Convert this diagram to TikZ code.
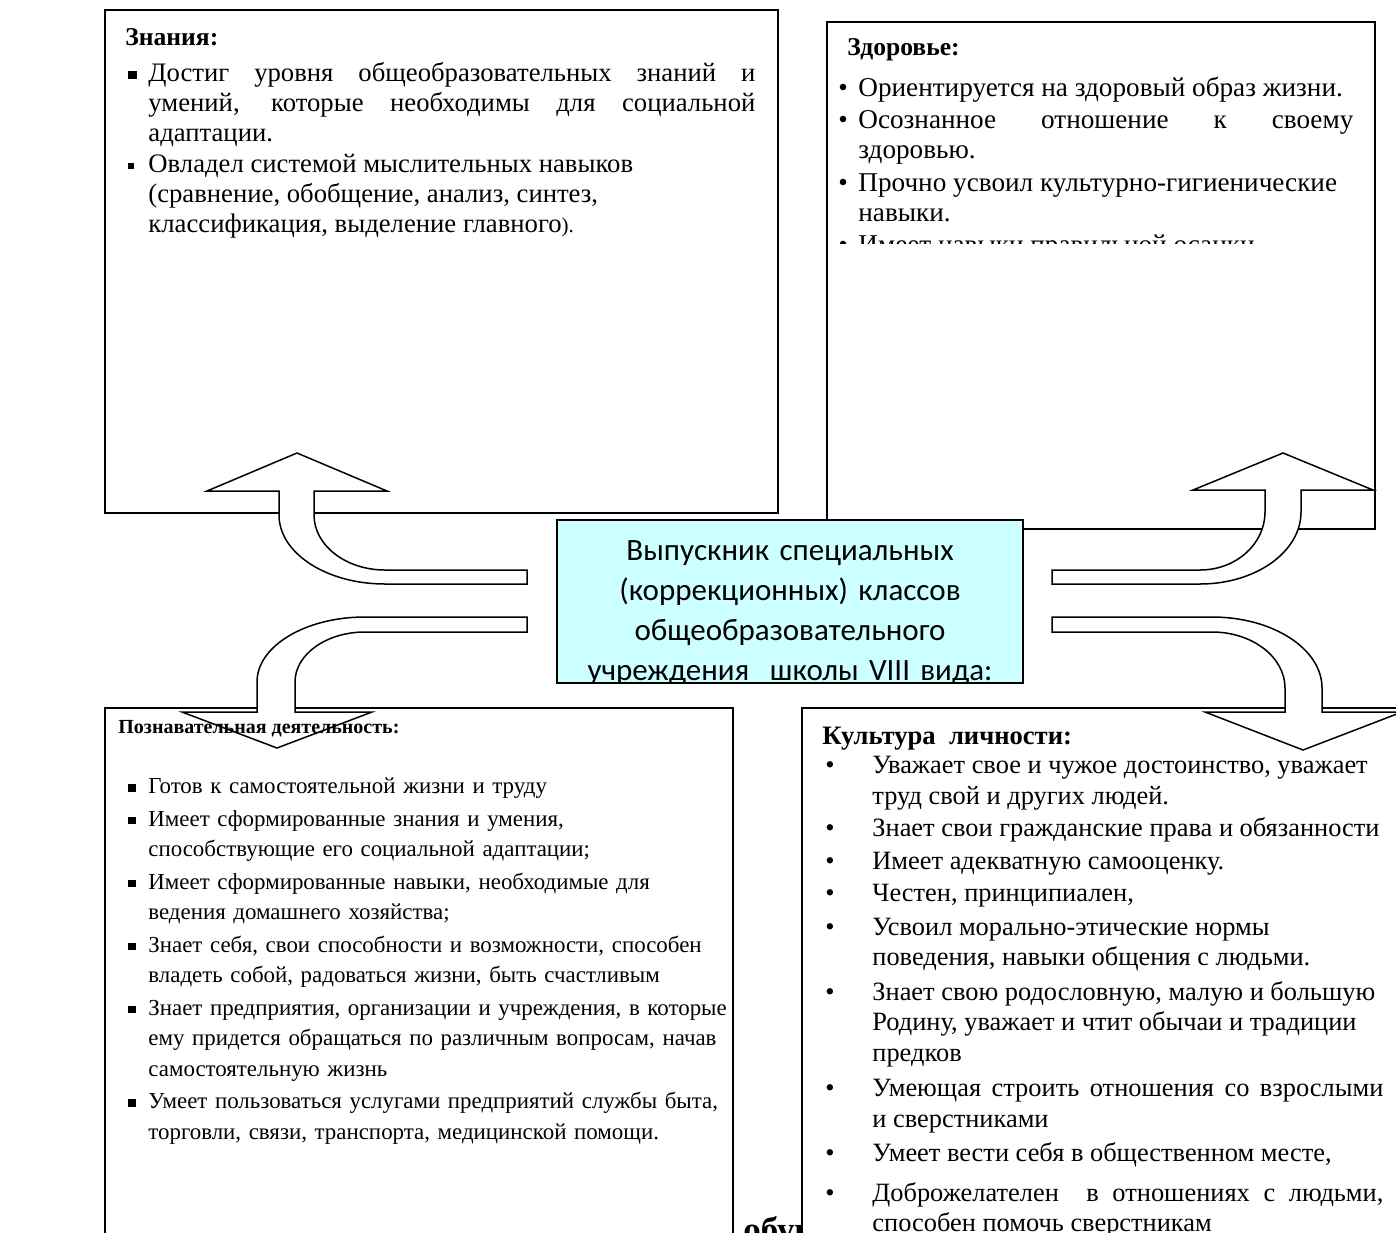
\documentclass[tikz,border=0pt]{standalone}
\usepackage{fontspec}
\setmainfont{Liberation Serif}
\newfontfamily\calibri{Carlito}
\definecolor{paleblue}{HTML}{CCFFFF}
\hyphenpenalty=10000
\exhyphenpenalty=10000

\tikzstyle{boxframe} = [draw=black, line width=1pt, fill=white]
\tikzstyle{centre} = [draw=black, line width=1pt, fill=paleblue]
\tikzstyle{bentarrow} = [draw=black, line width=0.75pt, fill=white, line join=miter]
\tikzstyle{title} = [anchor=base west, inner sep=0pt]
\tikzstyle{list} = [anchor=north west, inner sep=0pt]

\newcommand{\bitem}[2]{\par\hangindent=#1\hangafter=1\noindent\strut\makebox[#1][l]{#2}\ignorespaces}
\newcommand{\sqbul}[2]{\raisebox{#2}{\rule{#1}{#1}}}

\begin{document}
\begin{tikzpicture}[x=0.5pt, y=-0.5pt]

\useasboundingbox (0,0) rectangle (1396,1232);
\clip (0,0) rectangle (1396,1232);

% text half hidden behind the lower right box
\node (obu) [title, font=\bfseries\fontsize{17.5pt}{20pt}\selectfont] at (743,1241) {обуч};

% frames
\draw [boxframe] (105,10) rectangle (778,513);
\draw [boxframe] (827,22) rectangle (1375,529);
\draw [boxframe] (105,708) rectangle (733,1260);
\draw [boxframe] (802,708) rectangle (1420,1260);

% centre box
\fill [centre, draw=none] (557,520) rectangle (1023,683);
\begin{scope}
\clip (557,520) rectangle (1023,683);
\node (grad) [anchor=north, inner sep=0pt, text width=232pt, align=center, font=\calibri\fontsize{15.5pt}{20pt}\selectfont] at (790,532) {\strut Выпускник специальных\\ (коррекционных) классов\\ общеобразовательного\\ учреждения\ \ школы VIII вида:};
\end{scope}
\draw [line width=1pt] (557,520) rectangle (1023,683);

% bent arrows
\draw [bentarrow] (527,570) -- (385,570) arc[start angle=90, end angle=180, x radius=71, y radius=55] -- (314,491) -- (387,491) -- (297,453) -- (207,491) -- (279,491) -- (279,515) arc[start angle=180, end angle=90, x radius=106, y radius=69] -- (527,584) -- cycle;
\draw [bentarrow] (527,617) -- (365,617) arc[start angle=270, end angle=180, x radius=108, y radius=65] -- (257,712) -- (182,712) -- (277,748) -- (372,712) -- (295,712) -- (295,682) arc[start angle=180, end angle=270, x radius=70, y radius=50] -- (527,632) -- cycle;
\draw [bentarrow] (1052,570) -- (1200,570) arc[start angle=90, end angle=0, x radius=65, y radius=58] -- (1265,490) -- (1193,490) -- (1283,453) -- (1373,490) -- (1301,490) -- (1301,512) arc[start angle=0, end angle=90, x radius=101, y radius=72] -- (1052,584) -- cycle;
\draw [bentarrow] (1052,617) -- (1212,617) arc[start angle=270, end angle=360, x radius=110, y radius=71] -- (1322,712) -- (1402,712) -- (1303,750) -- (1205,712) -- (1285,712) -- (1285,688) arc[start angle=0, end angle=-90, x radius=73, y radius=56] -- (1052,632) -- cycle;

% Знания
\node (zntitle) [title, font=\bfseries\fontsize{12.8pt}{15pt}\selectfont] at (125,45) {Знания:};
\node (znlist) [list, text width=313.5pt, align=justify, font=\fontsize{13.35pt}{15pt}\selectfont] at (128,51) {%
\bitem{10pt}{\sqbul{4.2pt}{1.1pt}}Достиг уровня общеобразовательных знаний и\linebreak умений, которые необходимы для социальной\linebreak адаптации.
\par\vspace{0.5pt}
\bitem{10pt}{\sqbul{2.8pt}{1.8pt}}Овладел системой мыслительных навыков\newline (сравнение, обобщение, анализ, синтез,\newline классификация, выделение главного{\fontsize{10.5pt}{12pt}\selectfont).}\par};

% Здоровье
\node (zdtitle) [title, font=\bfseries\fontsize{12.8pt}{15pt}\selectfont] at (847,55) {Здоровье:};
\begin{scope}
\clip (827,22) rectangle (1375,243);
\node (zdlist) [list, text width=257.5pt, align=justify, font=\fontsize{13.6pt}{15pt}\selectfont] at (838,66) {%
\bitem{10pt}{•}Ориентируется на здоровый образ жизни.
\par\vspace{1pt}
\bitem{10pt}{•}Осознанное отношение к своему\linebreak здоровью.
\par\vspace{1.5pt}
\bitem{10pt}{•}Прочно усвоил культурно-гигиенические\newline навыки.
\par\vspace{1pt}
\bitem{10pt}{•}Имеет навыки правильной осанки.\par};
\end{scope}

% Познавательная деятельность
\node (poztitle) [title, font=\bfseries\fontsize{10pt}{12pt}\selectfont] at (118,733) {Познавательная деятельность:};
\node (pozlist) [list, text width=304pt, align=left, font=\fontsize{11.45pt}{15.25pt}\selectfont] at (128,762.6) {%
\bitem{10pt}{\sqbul{3.6pt}{1pt}}Готов к самостоятельной жизни и труду
\par\vspace{1pt}
\bitem{10pt}{\sqbul{3.6pt}{1pt}}Имеет сформированные знания и умения,\newline способствующие его социальной адаптации;
\par\vspace{1pt}
\bitem{10pt}{\sqbul{3.6pt}{1pt}}Имеет сформированные навыки, необходимые для\newline ведения домашнего хозяйства;
\par\vspace{1pt}
\bitem{10pt}{\sqbul{3.6pt}{1pt}}Знает себя, свои способности и возможности, способен\newline владеть собой, радоваться жизни, быть счастливым
\par\vspace{1pt}
\bitem{10pt}{\sqbul{3.6pt}{1pt}}Знает предприятия, организации и учреждения, в которые\newline ему придется обращаться по различным вопросам, начав\newline самостоятельную жизнь
\par\vspace{1pt}
\bitem{10pt}{\sqbul{3.6pt}{1pt}}Умеет пользоваться услугами предприятий службы быта,\newline торговли, связи, транспорта, медицинской помощи.\par};

% Культура личности
\node (kultitle) [title, font=\bfseries\fontsize{13.3pt}{15pt}\selectfont] at (822,744) {Культура\ \ личности:};
\node (kullist) [list, text width=279pt, align=justify, font=\fontsize{13.2pt}{15.25pt}\selectfont] at (825,742.6) {%
\bitem{23.5pt}{•}Уважает свое и чужое достоинство, уважает\newline труд свой и других людей.
\par\vspace{1pt}
\bitem{23.5pt}{•}Знает свои гражданские права и обязанности
\par\vspace{1pt}
\bitem{23.5pt}{•}Имеет адекватную самооценку.
\par\vspace{1pt}
\bitem{23.5pt}{•}Честен, принципиален,
\par\vspace{1.5pt}
\bitem{23.5pt}{•}Усвоил морально-этические нормы\newline поведения, навыки общения с людьми.
\par\vspace{2pt}
\bitem{23.5pt}{•}Знает свою родословную, малую и большую\newline Родину, уважает и чтит обычаи и традиции\newline предков
\par\vspace{2.5pt}
\bitem{23.5pt}{•}Умеющая строить отношения со взрослыми\linebreak и сверстниками
\par\vspace{2pt}
\bitem{23.5pt}{•}Умеет вести себя в общественном месте,
\par\vspace{4.5pt}
\bitem{23.5pt}{•}Доброжелателен\ \ в отношениях с людьми,\linebreak способен помочь сверстникам\par};

\end{tikzpicture}
\end{document}
